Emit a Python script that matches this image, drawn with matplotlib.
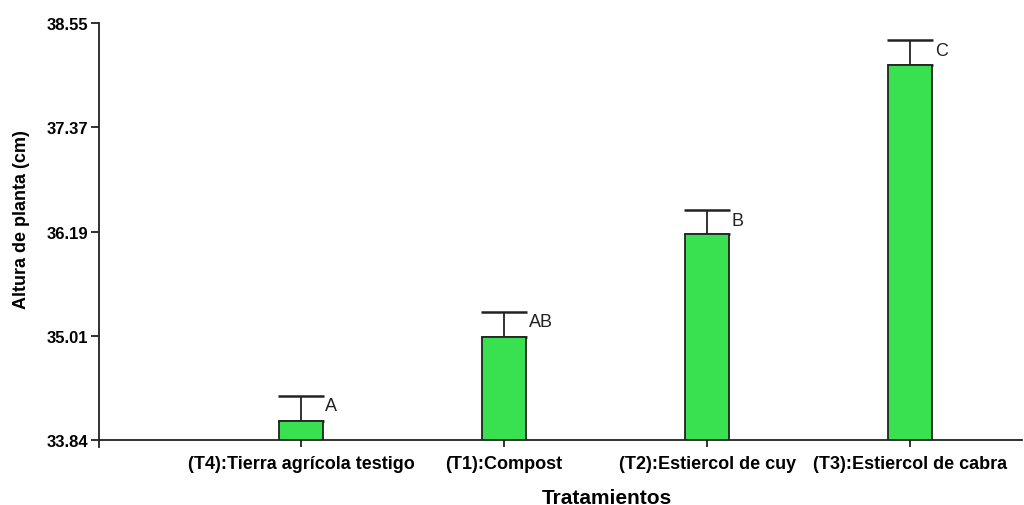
import numpy as np
import matplotlib
matplotlib.use("Agg")
import matplotlib.pyplot as plt

plt.rcParams['font.family'] = ['Liberation Sans', 'DejaVu Sans']

# ── Data ─────────────────────────────────────────────────────
tratamientos = ["(T4):Tierra agrícola testigo", "(T1):Compost",
                "(T2):Estiercol de cuy", "(T3):Estiercol de cabra"]
medias = [34.05, 35.00, 36.17, 38.08]
errores = [0.29, 0.29, 0.27, 0.28]
letras = ["A", "AB", "B", "C"]
yticks = [33.84, 35.01, 36.19, 37.37, 38.55]

# ── Figure ───────────────────────────────────────────────────
fig = plt.figure(figsize=(10.24, 5.06), dpi=100)
ax = fig.add_axes([0.0967, 0.1285, 0.9013, 0.824])

x = np.arange(len(tratamientos))
base = yticks[0]
ax.bar(x, np.array(medias) - base, bottom=base, width=0.215,
       color="#39E150", edgecolor="#222222", linewidth=1.3, zorder=3)
ax.errorbar(x, medias, yerr=[np.zeros(len(x)), errores], fmt="none",
            ecolor="#222222", elinewidth=1.3, capsize=16.5, capthick=1.8,
            zorder=2)

for xi, m, e, l in zip(x, medias, errores, letras):
    ax.text(xi + 0.12, m + e - 0.02, l, ha="left", va="top",
            fontsize=13, color="#222222", zorder=4)

ax.set_xlim(-0.995, 3.55)
ax.set_ylim(yticks[0], yticks[-1])
ax.set_yticks(yticks)
ax.set_yticklabels(["%.2f" % v for v in yticks], fontweight="bold", fontsize=12)
ax.set_xticks(x)
ax.set_xticklabels(tratamientos, fontweight="bold", fontsize=13)

for s in ["top", "right"]:
    ax.spines[s].set_visible(False)
for s in ["left", "bottom"]:
    ax.spines[s].set_linewidth(1.3)
    ax.spines[s].set_color("#222222")
ax.spines["left"].set_bounds(yticks[0] - 0.08, yticks[-1])
ax.tick_params(axis="y", length=6, width=1.3, color="#222222", pad=2)
ax.tick_params(axis="x", length=5, width=1.3, color="#222222", pad=6)

ax.set_ylabel("Altura de planta (cm)", fontweight="bold", fontsize=13)
ax.yaxis.set_label_coords(-0.0748, 0.53)
ax.set_xlabel("Tratamientos", fontweight="bold", fontsize=15)
ax.xaxis.set_label_coords(0.550, -0.115)

plt.savefig("out.png", dpi=100, facecolor="white")
plt.close()
